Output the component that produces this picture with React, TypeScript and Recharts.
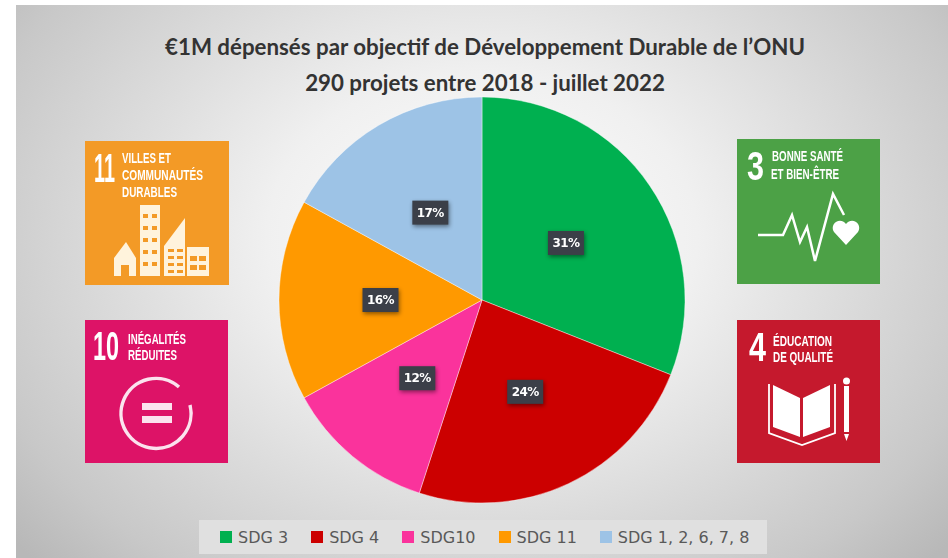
import { PieChart, Pie, Legend } from 'recharts';

const goals = ['SDG 3', 'SDG 4', 'SDG10', 'SDG 11', 'SDG 1, 2, 6, 7, 8'];
const shares = [31, 24, 12, 16, 17];
const colors = ['#00B050', '#CC0000', '#FA339C', '#FF9900', '#9DC3E6'];

const titleLines = [
  '€1M dépensés par objectif de Développement Durable de l’ONU',
  '290 projets entre 2018 - juillet 2022',
];

const data = goals.map((name, i) => ({ name, value: shares[i], fill: colors[i] }));

const renderLabel = (props: any) => {
  const r = (props.innerRadius + props.outerRadius) / 2;
  const a = (-props.midAngle * Math.PI) / 180;
  const x = props.cx + r * Math.cos(a);
  const y = props.cy + r * Math.sin(a);
  return (
    <g style={{ filter: 'drop-shadow(1px 2px 2px rgba(0,0,0,0.45))' }}>
      <rect x={x - 18} y={y - 12} width={36} height={24} fill="#3B3F48" />
      <text
        x={x}
        y={y + 4}
        textAnchor="middle"
        fill="#fff"
        fontSize={12}
        fontWeight={700}
        fontFamily="'DejaVu Sans', sans-serif"
        letterSpacing={-0.6}
      >
        {props.value}%
      </text>
    </g>
  );
};

const renderLegend = ({ payload }: any) => (
  <div style={{ display: 'flex', alignItems: 'center', height: 34, paddingLeft: 21, background: '#E0E0E0', gap: 23 }}>
    {(payload || []).map((item: any) => (
      <div key={item.value} style={{ display: 'flex', alignItems: 'center', gap: 6 }}>
        <span style={{ width: 12, height: 12, background: item.color, display: 'block' }} />
        <span style={{ fontFamily: "'DejaVu Sans', sans-serif", fontSize: 16, color: '#595959' }}>{item.value}</span>
      </div>
    ))}
  </div>
);

const tileFont = "'Liberation Sans', sans-serif";

// digit width of the bold font at 20px is about 11.12
const Num = ({ x, y, w, children }: any) => (
  <text
    transform={`translate(${x} ${y}) scale(${w / (String(children).length * 11.12)} 2)`}
    fill="#fff"
    fontFamily={tileFont}
    fontWeight={700}
    fontSize={20}
  >
    {children}
  </text>
);

const Cap = ({ x, y, w, children }: any) => (
  <text x={x} y={y} fill="#fff" fontFamily={tileFont} fontWeight={700} fontSize={14} textLength={w} lengthAdjust="spacingAndGlyphs">
    {children}
  </text>
);

const Tiles = () => (
  <svg width={948} height={558} style={{ position: 'absolute', left: 0, top: 0, filter: 'blur(0.5px)' }}>
    {/* 11 */}
    <rect x={85} y={141} width={144} height={144} fill="#F39A26" />
    <Num x={94} y={182} w={22}>11</Num>
    <Cap x={122} y={163} w={49}>VILLES ET</Cap>
    <Cap x={122} y={180} w={81}>COMMUNAUTÉS</Cap>
    <Cap x={122} y={197} w={55}>DURABLES</Cap>
    <g fill="#FFF3DC">
      <path d="M114 258 L126 242 L136 258 L136 276 L129 276 L129 265 L121 265 L121 276 L114 276 Z" />
      <rect x={140} y={205} width={20} height={71} />
      <path d="M164 246 L185 218 L185 276 L164 276 Z" />
      <rect x={187} y={247} width={22} height={29} />
    </g>
    <g fill="#F39A26">
      {[214, 226, 238, 250, 262].map((y) => (
        <g key={y}>
          <rect x={143} y={y} width={5} height={4} />
          <rect x={152} y={y} width={5} height={4} />
        </g>
      ))}
      {[249, 256, 263, 270].map((y) => (
        <g key={y}>
          <rect x={168} y={y} width={6} height={3} />
          <rect x={177} y={y} width={6} height={3} />
        </g>
      ))}
      {[256, 265].map((y) => (
        <g key={y}>
          <rect x={190} y={y} width={7} height={5} />
          <rect x={199} y={y} width={7} height={5} />
        </g>
      ))}
    </g>

    {/* 10 */}
    <rect x={85} y={320} width={143} height={143} fill="#DD1367" />
    <Num x={93} y={360} w={26}>10</Num>
    <Cap x={128} y={344} w={58}>INÉGALITÉS</Cap>
    <Cap x={128} y={360} w={49}>RÉDUITES</Cap>
    <path d="M179 387 A35 35 0 1 0 190 405" fill="none" stroke="#FBE3EE" strokeWidth={3.5} />
    <rect x={142} y={403} width={30} height={7} fill="#FBE3EE" />
    <rect x={142} y={416} width={30} height={7} fill="#FBE3EE" />

    {/* 3 */}
    <rect x={737} y={139} width={143} height={145} fill="#4CA146" />
    <Num x={747} y={180} w={17}>3</Num>
    <Cap x={772} y={161} w={71}>BONNE SANTÉ</Cap>
    <Cap x={771} y={179} w={68}>ET BIEN-ÊTRE</Cap>
    <polyline
      points="758,235 783,235 792,215 800,242 807,227 815,261 833,194 844,215"
      fill="none"
      stroke="#fff"
      strokeWidth={2.5}
    />
    <path d="M846 245 L834 232 C829 224 840 216 846 224 C852 216 863 224 858 232 Z" fill="#fff" />

    {/* 4 */}
    <rect x={737} y={320} width={143} height={143} fill="#C5192D" />
    <Num x={749} y={361} w={17}>4</Num>
    <Cap x={773} y={346} w={59}>ÉDUCATION</Cap>
    <Cap x={773} y={362} w={60}>DE QUALITÉ</Cap>
    <g fill="#fff">
      <path d="M773 385 L800 398 L800 437 L773 427 Z" />
      <path d="M803 398 L830 385 L830 427 L803 437 Z" />
      <rect x={844} y={386} width={5} height={46} />
      <circle cx={846.5} cy={381} r={3.5} />
      <path d="M844 434 L849 434 L846.5 441 Z" />
    </g>
    <polyline points="769,384 769,433 802,445 835,433 835,384" fill="none" stroke="#fff" strokeWidth={1.8} />
  </svg>
);

export default function App() {
  return (
    <div style={{ position: 'absolute', left: 0, top: 0, width: 948, height: 558, overflow: 'hidden', background: '#fff' }}>
      <div
        style={{
          position: 'absolute',
          left: 16,
          top: 5,
          width: 932,
          height: 553,
          background: 'radial-gradient(ellipse 66% 85% at 50% 42%, #ffffff 0%, #f0f0f0 35%, #d8d8d8 65%, #c8c8c8 85%, #b8b8b8 100%)',
        }}
      />
      <Tiles />
      <div style={{ position: 'absolute', left: 0, width: 970, top: 29, textAlign: 'center', fontFamily: 'Lato, sans-serif', fontWeight: 700, fontSize: 22.3, color: '#333', lineHeight: '36px' }}>
        {titleLines.map((line) => (
          <div key={line}>{line}</div>
        ))}
      </div>
      <div style={{ position: 'absolute', left: 0, top: 0 }}>
        <PieChart width={948} height={558} margin={{ top: 0, right: 0, bottom: 0, left: 0 }}>
          <Pie
            data={data}
            dataKey="value"
            nameKey="name"
            cx={482}
            cy={300}
            innerRadius={0}
            outerRadius={203}
            startAngle={90}
            endAngle={-270}
            stroke="#fff"
            strokeWidth={0.4}
            label={renderLabel}
            labelLine={false}
            isAnimationActive={false}
          />
          <Legend
            content={renderLegend}
            itemSorter={null}
            wrapperStyle={{ position: 'absolute', left: 199, top: 520, width: 568, height: 34 }}
          />
        </PieChart>
      </div>
    </div>
  );
}
